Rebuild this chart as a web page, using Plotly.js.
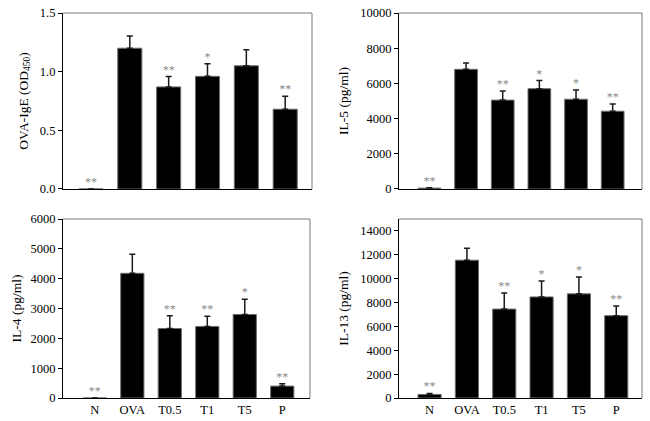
<!DOCTYPE html>
<html>
<head>
<meta charset="utf-8">
<script src="https://cdn.plot.ly/plotly-3.0.1.min.js"></script>
<style>html,body{margin:0;padding:0;background:#fff;}#chart{width:650px;height:421px;}</style>
</head>
<body>
<div id="chart"></div>
<script>
const groups = ['N', 'OVA', 'T0.5', 'T1', 'T5', 'P'];

const igeMean = [0, 1.2, 0.87, 0.96, 1.05, 0.68];
const igeErr  = [0, 0.105, 0.088, 0.107, 0.137, 0.111];
const igeSig  = ['**', '', '**', '*', '', '**'];

const il5Mean = [50, 6800, 5050, 5700, 5100, 4420];
const il5Err  = [20, 360, 520, 460, 530, 410];
const il5Sig  = ['**', '', '**', '*', '*', '**'];

const il4Mean = [0, 4180, 2330, 2400, 2800, 400];
const il4Err  = [0, 640, 430, 340, 510, 80];
const il4Sig  = ['**', '', '**', '**', '*', '**'];

const il13Mean = [300, 11550, 7450, 8470, 8730, 6900];
const il13Err  = [80, 990, 1340, 1340, 1420, 800];
const il13Sig  = ['**', '', '**', '*', '*', '**'];

const FONT = '"Liberation Serif", "Times New Roman", serif';

const panels = [
  {mean: igeMean, err: igeErr, sig: igeSig, xa: 'x',  ya: 'y'},
  {mean: il5Mean, err: il5Err, sig: il5Sig, xa: 'x2', ya: 'y2'},
  {mean: il4Mean, err: il4Err, sig: il4Sig, xa: 'x3', ya: 'y3'},
  {mean: il13Mean, err: il13Err, sig: il13Sig, xa: 'x4', ya: 'y4'}
];

const traces = [];
panels.forEach(p => {
  traces.push({
    type: 'bar', x: groups, y: p.mean, xaxis: p.xa, yaxis: p.ya,
    width: 0.62,
    marker: {color: '#000000', line: {color: '#6e6e6e', width: 1}},
    error_y: {type: 'data', symmetric: false, array: p.err,
              arrayminus: p.err.map(() => 0), color: '#1a1a1a', thickness: 1.5, width: 3},
    hoverinfo: 'skip', showlegend: false
  });
  const idx = p.sig.map((s, i) => s ? i : -1).filter(i => i >= 0);
  traces.push({
    type: 'scatter', mode: 'text',
    x: idx.map(i => groups[i]),
    y: idx.map(i => p.mean[i] + p.err[i]),
    text: idx.map(i => p.sig[i]), textposition: 'top center',
    textfont: {family: FONT, size: 12, color: '#8a8a8a'},
    xaxis: p.xa, yaxis: p.ya, cliponaxis: false,
    hoverinfo: 'skip', showlegend: false
  });
});

function xax(domain, range, showLabels) {
  return {
    domain: domain, range: range, type: 'category',
    categoryorder: 'array', categoryarray: groups,
    showline: true, linecolor: '#000', linewidth: 1, mirror: false,
    ticks: '', showticklabels: showLabels, showgrid: false, zeroline: false,
    tickfont: {family: FONT, size: 12.5, color: '#000'}, automargin: false, fixedrange: true
  };
}
function yax(domain, range, dtick, title, fmt, standoff) {
  return {
    domain: domain, range: range, dtick: dtick, tick0: 0,
    showline: true, linecolor: '#000', linewidth: 1, mirror: false,
    ticks: 'outside', ticklen: 4, tickcolor: '#000', tickwidth: 1,
    showgrid: false, zeroline: false, tickformat: fmt,
    tickfont: {family: FONT, size: 12.5, color: '#000'},
    title: {text: title, font: {family: FONT, size: 13.5, color: '#000'}, standoff: standoff},
    automargin: false, fixedrange: true
  };
}

const xTop = [0.0969, 0.4800], xTopR = [0.6138, 0.9877];
const xBot = [0.0969, 0.4769];
const yTop = [0.5511, 0.9691], yBot = [0.0546, 0.4798];

const layout = {
  width: 650, height: 421,
  margin: {l: 0, r: 0, t: 0, b: 0},
  paper_bgcolor: '#fff', plot_bgcolor: '#fff',
  bargap: 0.38,
  xaxis:  xax(xTop,  [-0.72, 5.69], false),
  xaxis2: xax(xTopR, [-0.83, 5.8], false),
  xaxis3: xax(xBot,  [-0.85, 5.74], true),
  xaxis4: xax(xTopR, [-0.82, 5.69], true),
  yaxis:  Object.assign(yax(yTop, [0, 1.5], 0.5, 'OVA-IgE (OD<sub>450</sub>)', '.1f', 8), {anchor: 'x'}),
  yaxis2: Object.assign(yax(yTop, [0, 10000], 2000, 'IL-5 (pg/ml)', 'd', 8), {anchor: 'x2'}),
  yaxis3: Object.assign(yax(yBot, [0, 6000], 1000, 'IL-4 (pg/ml)', 'd', 5), {anchor: 'x3'}),
  yaxis4: Object.assign(yax(yBot, [0, 15000], 2000, 'IL-13 (pg/ml)', 'd', 8), {anchor: 'x4'}),
  shapes: []
};
layout.xaxis.anchor = 'y'; layout.xaxis2.anchor = 'y2'; layout.xaxis3.anchor = 'y3'; layout.xaxis4.anchor = 'y4';

['', '2', '3', '4'].forEach(s => {
  const xr = 'x' + s + ' domain', yr = 'y' + s + ' domain';
  layout.shapes.push({type: 'line', xref: xr, yref: yr, x0: 0, x1: 1, y0: 1, y1: 1, line: {color: '#7a7a7a', width: 1}});
  layout.shapes.push({type: 'line', xref: xr, yref: yr, x0: 1, x1: 1, y0: 0, y1: 1, line: {color: '#7a7a7a', width: 1}});
});

Plotly.newPlot('chart', traces, layout, {staticPlot: true, displayModeBar: false});
</script>
</body>
</html>
